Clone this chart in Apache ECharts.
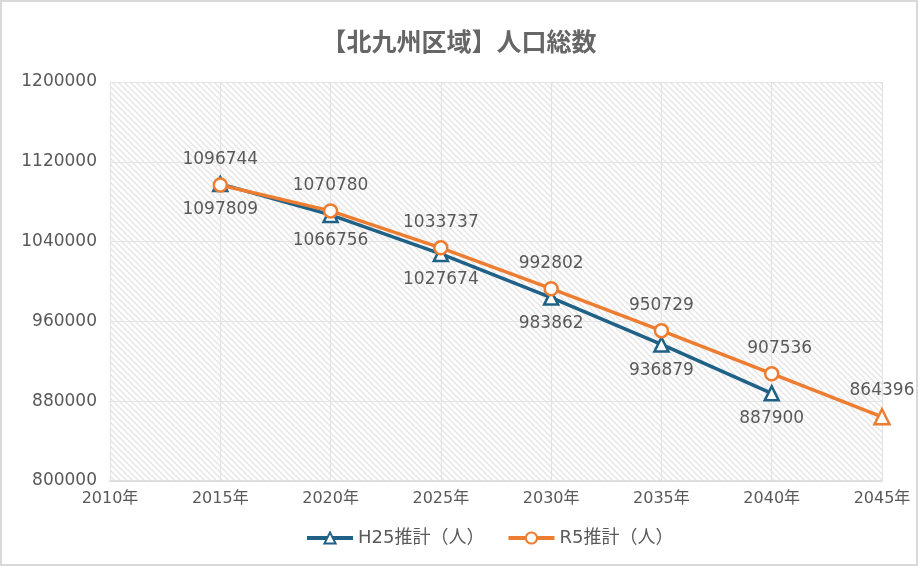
<!DOCTYPE html>
<html lang="ja">
<head>
<meta charset="UTF-8">
<title>北九州区域 人口総数</title>
<script src="https://cdn.jsdelivr.net/npm/echarts@6/dist/echarts.min.js"></script>
<style>
  html, body { margin: 0; padding: 0; background: #fff; }
  #chart { width: 918px; height: 566px; box-sizing: border-box; border: 2px solid #d9d9d9; }
</style>
</head>
<body>
<div id="chart"></div>
<script>
var years = ['2010年', '2015年', '2020年', '2025年', '2030年', '2035年', '2040年', '2045年'];
var h25 = ['-', 1097809, 1066756, 1027674, 983862, 936879, 887900, '-'];
var r5 = ['-', 1096744, 1070780, 1033737, 992802, 950729, 907536, 864396];
var seriesNames = ['H25推計（人）', 'R5推計（人）'];

// diagonal hatch for the plot area
function hatch() {
  var c = document.createElement('canvas');
  c.width = 6; c.height = 6;
  var g = c.getContext('2d');
  g.fillStyle = '#ffffff';
  g.fillRect(0, 0, 6, 6);
  g.strokeStyle = '#e6e6e6';
  g.lineWidth = 1.5;
  g.beginPath();
  g.moveTo(-1, -1); g.lineTo(7, 7);
  g.moveTo(-4, 2); g.lineTo(4, 10);
  g.moveTo(2, -4); g.lineTo(10, 4);
  g.stroke();
  return c;
}

var font = '"DejaVu Sans", "Noto Sans CJK JP", sans-serif';
var chart = echarts.init(document.getElementById('chart'));

var r5Data = r5.map(function (v, i) {
  if (i === r5.length - 1) return { value: v, symbol: 'triangle', symbolSize: 15 };
  if (i === 6) return { value: v, label: { offset: [8, 0] } };
  return v;
});

chart.setOption({
  animation: false,
  textStyle: { fontFamily: font },
  title: {
    text: '【北九州区域】人口総数',
    left: 'center', top: 22,
    textStyle: { fontFamily: '"Noto Sans CJK JP", sans-serif', fontSize: 25, fontWeight: 'bold', color: '#666666' }
  },
  legend: {
    bottom: 12, left: 298, itemGap: 22, itemWidth: 46, itemHeight: 14,
    lineStyle: { width: 4 },
    textStyle: { fontFamily: font, fontSize: 18, color: '#595959' },
    data: seriesNames
  },
  grid: {
    left: 108, right: 34, top: 80, bottom: 83,
    show: true, borderWidth: 0,
    backgroundColor: { image: hatch(), repeat: 'repeat' }
  },
  xAxis: {
    type: 'category', boundaryGap: false, data: years,
    axisLine: { lineStyle: { color: '#d9d9d9', width: 1.5 } },
    axisTick: { show: false },
    axisLabel: { color: '#595959', fontSize: 16, margin: 10 },
    splitLine: { show: true, lineStyle: { color: '#e3e3e3', width: 1.2 } }
  },
  yAxis: {
    type: 'value', min: 800000, max: 1200000, interval: 80000,
    axisLine: { show: false }, axisTick: { show: false },
    axisLabel: { color: '#595959', fontSize: 17, margin: 13, formatter: function (v) { return String(v); } },
    splitLine: { lineStyle: { color: '#e3e3e3', width: 1.2 } }
  },
  series: [
    {
      name: seriesNames[0], type: 'line', data: h25,
      color: '#1f6187',
      lineStyle: { width: 3.5, color: '#1f6187' },
      symbol: 'triangle', symbolSize: 14,
      itemStyle: { color: '#fff', borderColor: '#1f6187', borderWidth: 2.5 },
      label: { show: true, position: 'bottom', distance: 9, color: '#595959', fontSize: 17 },
      z: 2
    },
    {
      name: seriesNames[1], type: 'line', data: r5Data,
      color: '#ed7d31',
      lineStyle: { width: 3.5, color: '#ed7d31' },
      symbol: 'circle', symbolSize: 13,
      itemStyle: { color: '#fff', borderColor: '#ed7d31', borderWidth: 2.5 },
      label: { show: true, position: 'top', distance: 9, color: '#595959', fontSize: 17 },
      z: 3
    }
  ]
});
</script>
</body>
</html>
